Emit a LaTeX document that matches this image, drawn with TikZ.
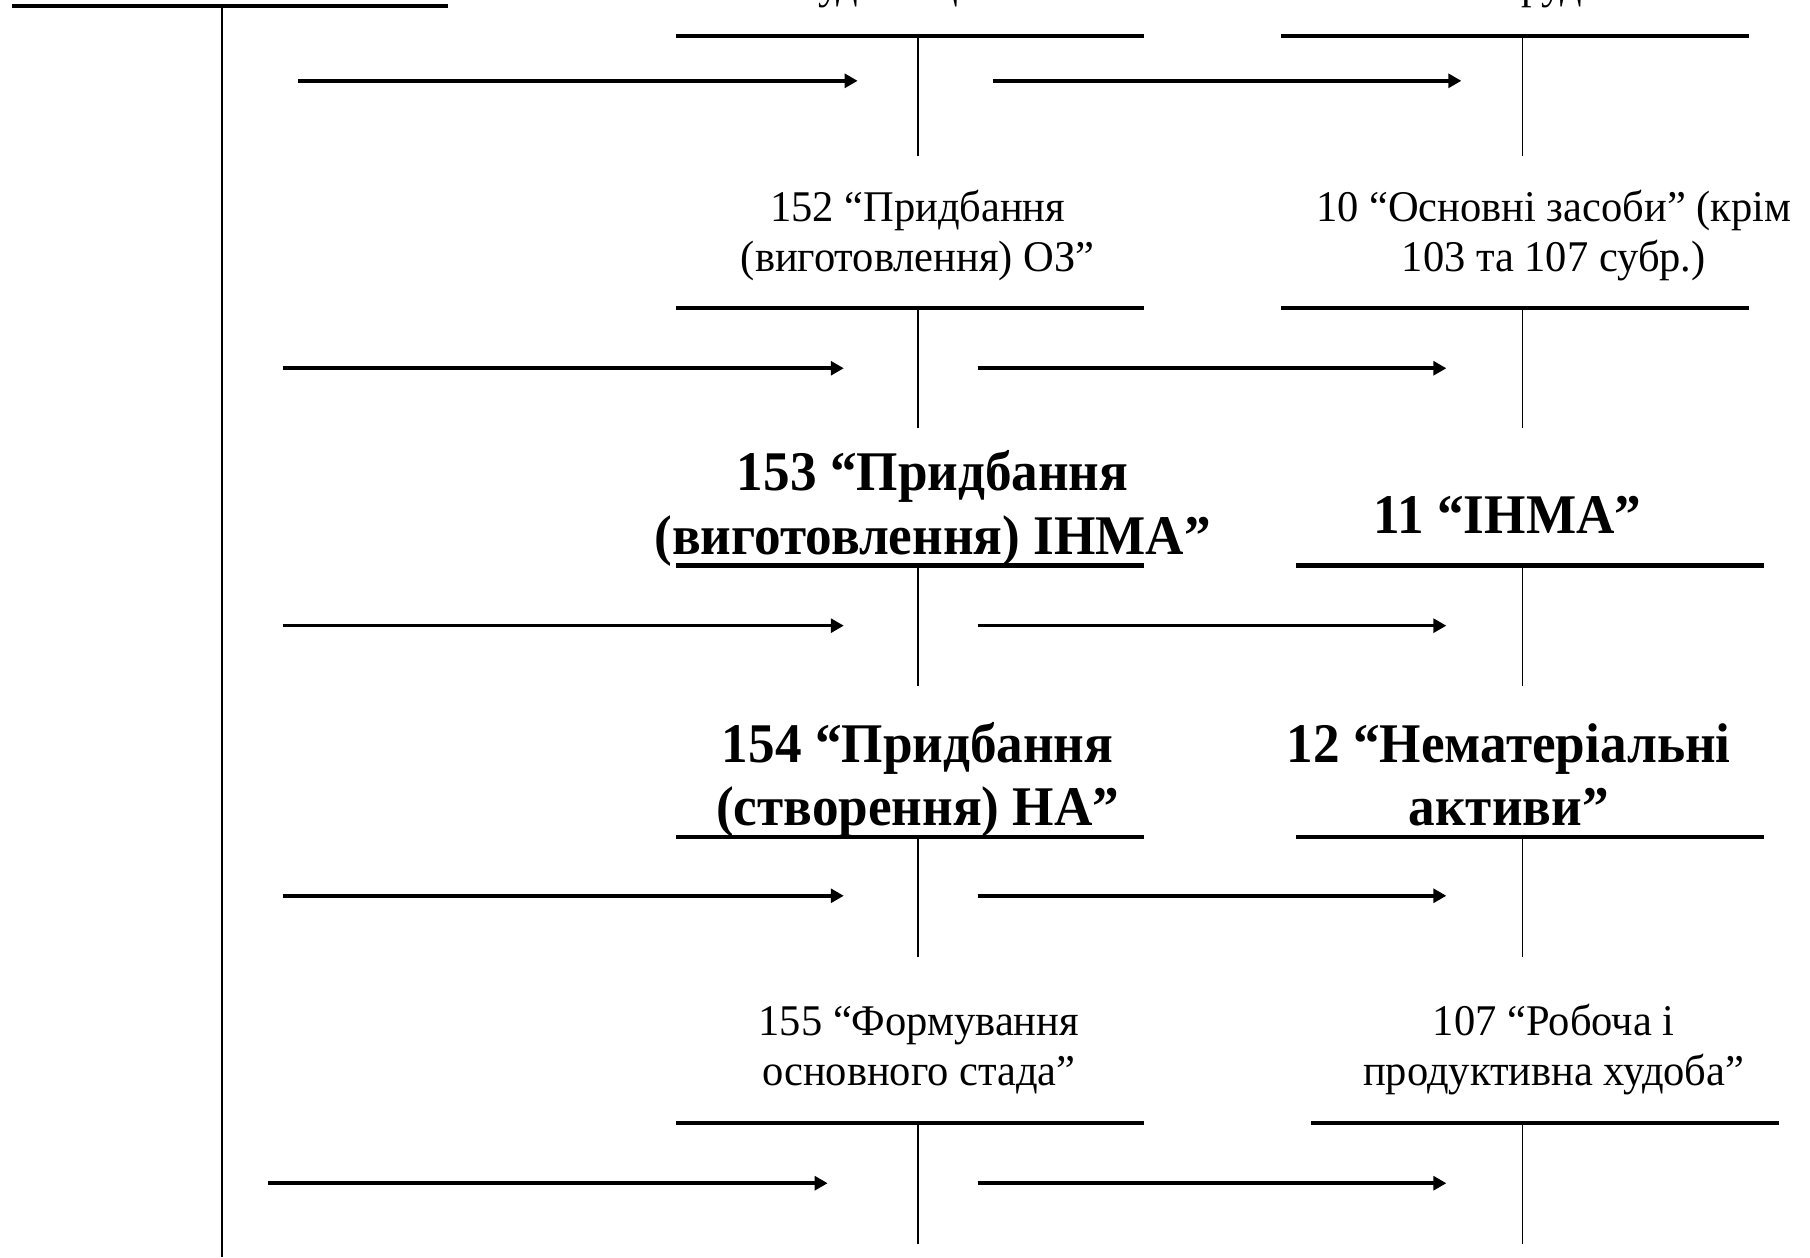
\documentclass[tikz,border=0pt]{standalone}
\usepackage{fontspec}
\setmainfont{Liberation Serif}
\usetikzlibrary{calc,positioning,arrows.meta}

\begin{document}
\begin{tikzpicture}[x=0.1mm,y=-0.1mm,
  bar/.style={line width=1.1pt},
  stem/.style={line width=0.45pt},
  flow/.style={line width=0.9pt,-{Triangle[length=3.2pt,width=3.4pt]}},
  plain/.style={align=center,inner sep=0pt,anchor=base,
    font=\fontsize{10.8}{12.2}\selectfont\addfontfeature{FakeStretch=0.97}},
  heavy/.style={align=center,inner sep=0pt,anchor=base,
    font=\fontsize{13.8}{15.6}\selectfont\bfseries\addfontfeature{FakeStretch=0.95}}]
  \useasboundingbox (0,0) rectangle (1568,1089);
  \clip (0,0) rectangle (1568,1089);

  % main account on the left
  \coordinate (main) at (192,5);
  \draw[bar] ($(main)+(-182,0)$) -- ($(main)+(196,0)$);
  \draw[stem] (main) -- (192,1089);

  % row 1 (labels cut at the top)
  \node[plain,anchor=south] (acc151) at (795,8) {151 “Капітальне\\будівництво”};
  \node[plain,anchor=south] (acc103) at (1335,8) {103 “Будинки та\\споруди”};
  \coordinate (t151) at (795,31);
  \coordinate (t103) at (1319,31);
  \draw[bar] ($(t151)+(-209,0)$) -- ($(t151)+(196,0)$);
  \draw[bar] ($(t103)+(-209,0)$) -- ($(t103)+(196,0)$);
  \draw[stem] (t151) -- ++(0,104);
  \draw[stem] (t103) -- ++(0,104);
  \coordinate (in151) at (258,70);
  \draw[flow] (in151) -- ($(t151)+(-52,39)$);
  \draw[flow] ($(t151)+(65,39)$) -- ($(t103)+(-53,39)$);

  % row 2
  \node[plain] (acc152) at (795,235) {152 “Придбання\\(виготовлення) ОЗ”};
  \node[plain] (acc10) at (1346,235) {10 “Основні засоби” (крім\\103 та 107 субр.)};
  \coordinate (t152) at (795,267);
  \coordinate (t10) at (1319,267);
  \draw[bar] ($(t152)+(-209,0)$) -- ($(t152)+(196,0)$);
  \draw[bar] ($(t10)+(-209,0)$) -- ($(t10)+(196,0)$);
  \draw[stem] (t152) -- ++(0,104);
  \draw[stem] (t10) -- ++(0,104);
  \coordinate (in152) at (245,319);
  \draw[flow] (in152) -- ($(t152)+(-64,52)$);
  \draw[flow] ($(t152)+(52,52)$) -- ($(t10)+(-66,52)$);

  % row 3
  \node[heavy] (acc153) at (808,480) {153 “Придбання\\(виготовлення) ІНМА”};
  \node[heavy] (acc11) at (1306,462) {11 “ІНМА”};
  \coordinate (t153) at (795,490);
  \coordinate (t11) at (1319,490);
  \draw[bar] ($(t153)+(-209,0)$) -- ($(t153)+(196,0)$);
  \draw[bar] ($(t11)+(-196,0)$) -- ($(t11)+(209,0)$);
  \draw[stem] (t153) -- ++(0,104);
  \draw[stem] (t11) -- ++(0,104);
  \coordinate (in153) at (245,542);
  \draw[flow] (in153) -- ($(t153)+(-64,52)$);
  \draw[flow] ($(t153)+(52,52)$) -- ($(t11)+(-66,52)$);

  % row 4
  \node[heavy] (acc154) at (795,715) {154 “Придбання\\(створення) НА”};
  \node[heavy] (acc12) at (1307,715) {12 “Нематеріальні\\активи”};
  \coordinate (t154) at (795,725);
  \coordinate (t12) at (1319,725);
  \draw[bar] ($(t154)+(-209,0)$) -- ($(t154)+(196,0)$);
  \draw[bar] ($(t12)+(-196,0)$) -- ($(t12)+(209,0)$);
  \draw[stem] (t154) -- ++(0,104);
  \draw[stem] (t12) -- ++(0,104);
  \coordinate (in154) at (245,776);
  \draw[flow] (in154) -- ($(t154)+(-64,51)$);
  \draw[flow] ($(t154)+(52,51)$) -- ($(t12)+(-66,51)$);

  % row 5
  \node[plain] (acc155) at (796,940) {155 “Формування\\основного стада”};
  \node[plain] (acc107) at (1346,940) {107 “Робоча і\\продуктивна худоба”};
  \coordinate (t155) at (795,973);
  \coordinate (t107) at (1319,973);
  \draw[bar] ($(t155)+(-209,0)$) -- ($(t155)+(196,0)$);
  \draw[bar] ($(t107)+(-183,0)$) -- ($(t107)+(222,0)$);
  \draw[stem] (t155) -- ++(0,105);
  \draw[stem] (t107) -- ++(0,105);
  \coordinate (in155) at (232,1025);
  \draw[flow] (in155) -- ($(t155)+(-78,52)$);
  \draw[flow] ($(t155)+(52,52)$) -- ($(t107)+(-66,52)$);
\end{tikzpicture}
\end{document}
